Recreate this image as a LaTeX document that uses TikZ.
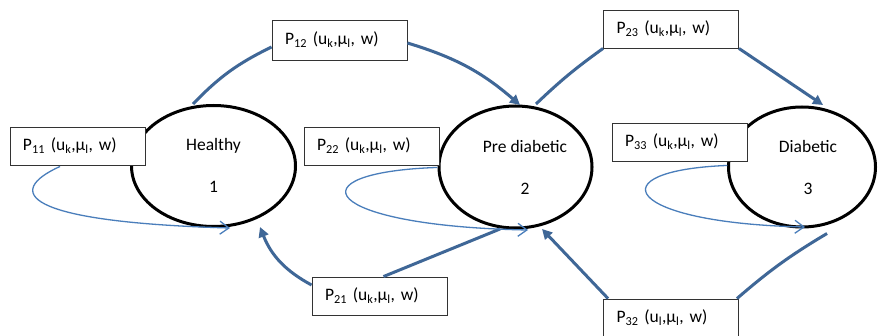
\documentclass[tikz,border=0pt]{standalone}
\usepackage{fontspec}
\setmainfont{Carlito}
\usetikzlibrary{shapes.geometric,arrows.meta,calc}
\definecolor{flowblue}{HTML}{3F6797}
\definecolor{loopblue}{HTML}{4A7EBB}
% transition label: P_{ij} (u_a, mu_b, w)
\newcommand{\trans}[3]{P\textsubscript{#1} (u\textsubscript{#2},μ\textsubscript{#3}, w)}
\begin{document}
\begin{tikzpicture}[x=1pt,y=1pt,
  every node/.style={font=\fontsize{17.5}{21}\selectfont},
  state/.style={ellipse, draw=black, line width=3pt, inner sep=0pt},
  statetext/.style={align=center, inner sep=0pt},
  probbox/.style={rectangle, draw=black!80, line width=0.9pt, fill=white,
    minimum height=38pt, inner xsep=13pt, inner ysep=0pt,
    text width=109pt, align=left},
  flow/.style={draw=flowblue, line width=3pt},
  flowarrow/.style={flow, -{Triangle[length=10pt,width=10pt]}},
  selfloop/.style={draw=loopblue, line width=1.3pt,
    -{Straight Barb[length=9pt,width=13pt]}}
]
\fill[white] (0,0) rectangle (878,335);
\clip (0,0) rectangle (878,335);

% states
\node[state, minimum width=164pt, minimum height=121pt] (s1) at (213.5,169) {};
\node[state, minimum width=153pt, minimum height=122pt] (s2) at (515.5,168) {};
\node[state, minimum width=147pt, minimum height=120pt] (s3) at (802,168) {};

\node[statetext] (t1) at (213.5,170) {Healthy\\[21pt]1};
\node[statetext] (t2) at (525,168) {Pre diabetic\\[21pt]2};
\node[statetext] (t3) at (808,168) {Diabetic\\[21pt]3};

% transition probabilities
\node[probbox, minimum height=40pt] (p12) at (339.5,295) {\trans{12}{k}{l}};
\node[probbox] (p11) at (77.5,189) {\trans{11}{k}{l}};
\node[probbox] (p22) at (371.5,189) {\trans{22}{k}{l}};
\node[probbox] (p23) at (671,306) {\trans{23}{k}{l}};
\node[probbox] (p33) at (679.5,193) {\trans{33}{k}{l}};
\node[probbox] (p21) at (379.5,39) {\trans{21}{k}{l}};
\node[probbox] (p32) at (671,17) {\trans{32}{l}{l}};

% forward transitions
\draw[flow] ($(s1.center)+(-20.5,62)$) to[bend left=10] ($(p12.west)+(0,-7)$);
\draw[flowarrow] ($(p12.east)+(0,-3)$) to[bend left=12] ($(s2.center)+(4.5,62)$);
\draw[flow] ($(s2.center)+(20.5,63)$) to[bend left=4] (p23.south west);
\draw[flowarrow] (p23.south east) -- ($(s3.center)+(21,62)$);

% backward transitions
\draw[flow] ($(s2.center)+(-15.5,-62)$) -- ($(p21.north)+(4,0)$);
\draw[flowarrow] ($(p21.west)+(0,11)$) to[bend left=20] ($(s1.center)+(46.5,-61)$);
\draw[flow] ($(s3.center)+(25,-66.5)$) to[bend right=5] ($(p32.north east)+(-2,0)$);
\draw[flowarrow] ($(p32.north west)+(5,0)$) -- ($(s2.center)+(26.5,-62)$);

% staying in the same state
\draw[selfloop] ($(p11.south)+(-17.5,-1)$) .. controls +(-55,-25) and +(-210,6) .. ($(s1.center)+(16.5,-62)$);
\draw[selfloop] ($(p22.south east)+(-2,-2)$) .. controls +(-147,-5) and +(-208,4) .. ($(s2.center)+(12.5,-63)$);
\draw[selfloop] ($(p33.south east)+(-20,-4)$) .. controls +(-131,-5) and +(-182,4) .. ($(s3.center)+(3,-60)$);
\end{tikzpicture}
\end{document}
